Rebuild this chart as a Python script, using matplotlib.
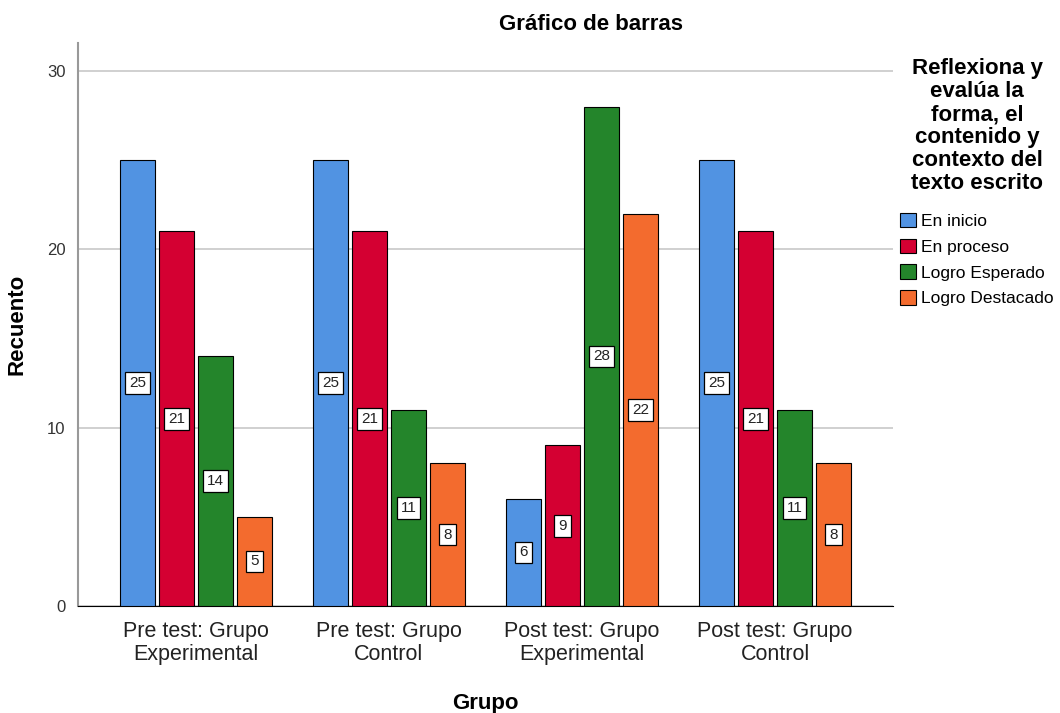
import numpy as np
import matplotlib
matplotlib.use('Agg')
import matplotlib.pyplot as plt

plt.rcParams['font.family'] = ['Liberation Sans', 'DejaVu Sans']

grupos = ['Pre test: Grupo\nExperimental', 'Pre test: Grupo\nControl',
          'Post test: Grupo\nExperimental', 'Post test: Grupo\nControl']
niveles = ['En inicio', 'En proceso', 'Logro Esperado', 'Logro Destacado']
en_inicio = [25, 25, 6, 25]
en_proceso = [21, 21, 9, 21]
logro_esperado = [14, 11, 28, 11]
logro_destacado = [5, 8, 22, 8]
colores = ['#5193E2', '#D40032', '#24852B', '#F36B2E']

series = [en_inicio, en_proceso, logro_esperado, logro_destacado]

fig = plt.figure(figsize=(10.6, 7.13), dpi=100)
ax = fig.add_axes([78/1060, 1-606/713, 815/1060, (606-43)/713])

x = np.arange(len(grupos))
step = 0.202
w = 0.181
for i, (vals, col, lab) in enumerate(zip(series, colores, niveles)):
    pos = x + (i - 1.5)*step
    ax.bar(pos, vals, width=w, color=col, edgecolor='black', linewidth=0.8,
           label=lab, zorder=3)
    for p, v in zip(pos, vals):
        ax.text(p, v/2, str(v), ha='center', va='center', fontsize=11, zorder=4,
                color='#222222',
                bbox=dict(boxstyle='square,pad=0.25', fc='white', ec='black', lw=0.9))

ax.set_xlim(-0.611, 3.611)
ax.set_ylim(0, 31.57)
ax.set_yticks([0, 10, 20, 30])
ax.yaxis.grid(True, color='#c8c8c8', linewidth=1.2, zorder=0)
ax.set_xticks(x)
ax.set_xticklabels(grupos, fontsize=15.5, linespacing=1.1, color='#222222')
ax.tick_params(axis='y', length=0, labelsize=12, pad=9, colors='#333333')
ax.tick_params(axis='x', length=0, pad=11)
for s in ['top', 'right']:
    ax.spines[s].set_visible(False)
ax.spines['left'].set_color('#999999')
ax.spines['left'].set_linewidth(1.5)
ax.spines['bottom'].set_color('black')
ax.set_ylabel('Recuento', fontsize=16, fontweight='bold', labelpad=14)
ax.set_xlabel('Grupo', fontsize=16, fontweight='bold', labelpad=20)

fig.text(591/1060, 1-25/713, 'Gráfico de barras', ha='center', va='center',
         fontsize=16, fontweight='bold')

fig.text(977/1060, 1-126/713,
         'Reflexiona y\nevalúa la\nforma, el\ncontenido y\ncontexto del\ntexto escrito',
         ha='center', va='center', fontsize=16, fontweight='bold', linespacing=1.12)

leg = fig.legend(loc='upper left', bbox_to_anchor=(893/1060, 1-206/713),
                 frameon=False, fontsize=12.5, handlelength=0.9, handleheight=0.9,
                 handletextpad=0.3, labelspacing=0.55, borderaxespad=0)

fig.savefig('out.png', dpi=100)
